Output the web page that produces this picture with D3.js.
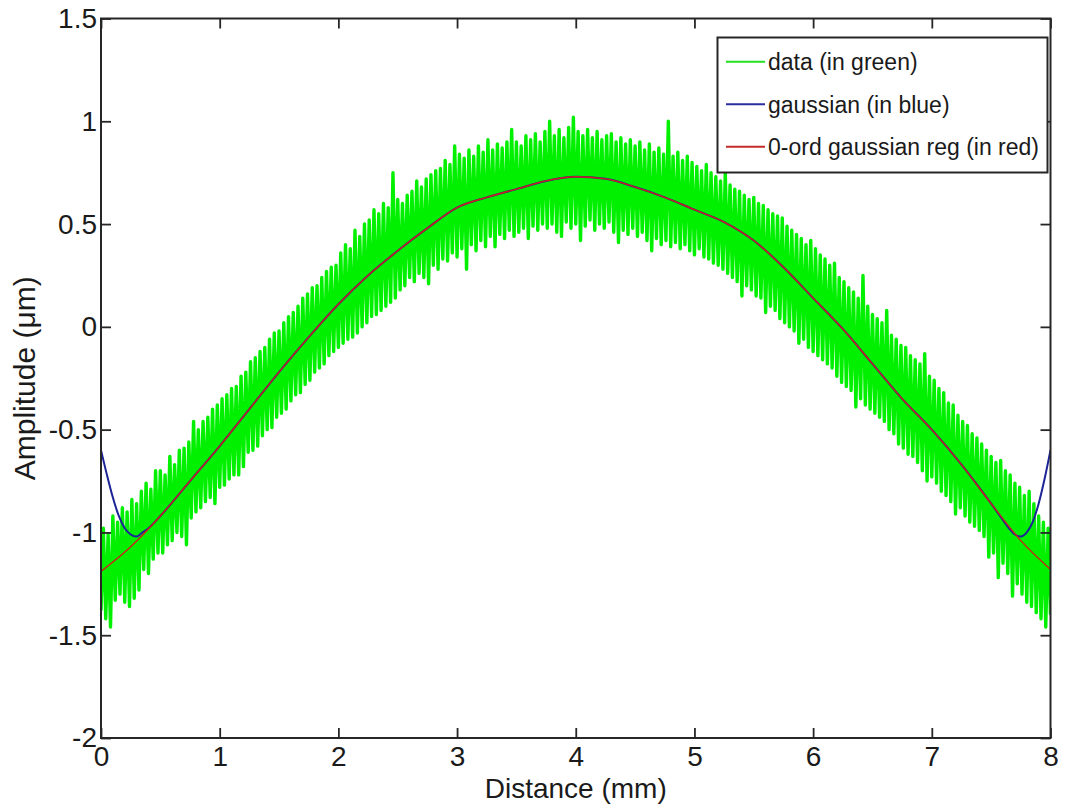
<!DOCTYPE html>
<html>
<head>
<meta charset="utf-8">
<script src="https://cdn.jsdelivr.net/npm/d3@7"></script>
<style>
  html, body { margin: 0; padding: 0; background: #fff; }
  svg { display: block; font-family: "Liberation Sans", Arial, sans-serif; }
</style>
</head>
<body>
<div id="chart"></div>
<script>
// measured profile: raw data, gaussian filter, 0-order gaussian regression
const distanceStep = 0.02; // mm between raw samples, starting at 0

const dataAmplitude = [
  -1.38, -0.98, -1.42, -1.01, -1.46, -0.92, -1.33, -0.95, -1.30, -0.88, -1.34, -0.90, -1.36, -0.84, -1.32, -0.86, -1.28, -0.80, -1.18, -0.76, -1.20, -0.79, -1.13, -0.70, -1.10,
  -0.70, -1.10, -0.72, -1.06, -0.63, -1.04, -0.67, -1.00, -0.60, -1.02, -0.59, -1.06, -0.56, -0.93, -0.46, -0.90, -0.50, -0.88, -0.46, -0.85, -0.44, -0.83, -0.40, -0.86, -0.38,
  -0.78, -0.35, -0.77, -0.33, -0.74, -0.30, -0.72, -0.29, -0.72, -0.24, -0.68, -0.22, -0.61, -0.17, -0.60, -0.15, -0.58, -0.12, -0.53, -0.10, -0.50, -0.06, -0.49, -0.03, -0.44,
  -0.02, -0.42, 0.02, -0.40, 0.05, -0.36, 0.07, -0.33, 0.10, -0.32, 0.14, -0.28, 0.16, -0.26, 0.19, -0.22, 0.20, -0.20, 0.24, -0.18, 0.27, -0.14, 0.29, -0.12, 0.30,
  -0.10, 0.36, -0.08, 0.40, -0.06, 0.38, -0.05, 0.47, -0.03, 0.44, 0.00, 0.50, 0.02, 0.52, 0.05, 0.57, 0.06, 0.55, 0.08, 0.60, 0.10, 0.58, 0.12, 0.75, 0.14,
  0.62, 0.18, 0.60, 0.20, 0.64, 0.24, 0.66, 0.22, 0.71, 0.26, 0.68, 0.24, 0.72, 0.21, 0.74, 0.30, 0.76, 0.28, 0.77, 0.33, 0.81, 0.32, 0.79, 0.36, 0.88,
  0.34, 0.84, 0.38, 0.82, 0.28, 0.86, 0.40, 0.83, 0.37, 0.88, 0.42, 0.85, 0.39, 0.91, 0.44, 0.86, 0.39, 0.89, 0.45, 0.87, 0.43, 0.90, 0.47, 0.96, 0.44,
  0.90, 0.46, 0.88, 0.48, 0.93, 0.43, 0.91, 0.49, 0.94, 0.47, 0.90, 0.50, 0.95, 0.48, 1.00, 0.50, 0.93, 0.46, 0.96, 0.44, 0.92, 0.51, 0.97, 0.48, 1.02,
  0.50, 0.95, 0.42, 0.93, 0.49, 0.96, 0.52, 0.92, 0.47, 0.95, 0.50, 0.91, 0.48, 0.93, 0.51, 0.94, 0.46, 0.90, 0.41, 0.92, 0.47, 0.89, 0.45, 0.91, 0.48,
  0.88, 0.44, 0.90, 0.46, 0.86, 0.42, 0.89, 0.37, 0.85, 0.43, 0.87, 0.40, 0.84, 0.42, 1.00, 0.39, 0.83, 0.41, 0.85, 0.38, 0.81, 0.40, 0.83, 0.37, 0.80,
  0.35, 0.78, 0.38, 0.76, 0.34, 0.79, 0.33, 0.75, 0.31, 0.73, 0.30, 0.71, 0.28, 0.75, 0.26, 0.69, 0.24, 0.67, 0.22, 0.66, 0.15, 0.64, 0.20, 0.62, 0.18,
  0.63, 0.15, 0.60, 0.14, 0.59, 0.07, 0.57, 0.10, 0.55, 0.08, 0.54, 0.04, 0.53, 0.02, 0.49, 0.00, 0.47, -0.02, 0.45, -0.08, 0.43, -0.06, 0.40, -0.10, 0.42,
  -0.12, 0.38, -0.14, 0.35, -0.16, 0.33, -0.18, 0.30, -0.20, 0.31, -0.24, 0.24, -0.27, 0.22, -0.29, 0.19, -0.31, 0.17, -0.39, 0.14, -0.35, 0.25, -0.38, 0.10, -0.40,
  0.06, -0.42, 0.04, -0.44, 0.02, -0.46, 0.08, -0.50, -0.04, -0.52, -0.06, -0.57, -0.09, -0.59, -0.10, -0.62, -0.14, -0.63, -0.16, -0.66, -0.18, -0.70, -0.13, -0.75, -0.24,
  -0.73, -0.26, -0.76, -0.30, -0.80, -0.32, -0.82, -0.37, -0.85, -0.38, -0.91, -0.43, -0.88, -0.46, -0.92, -0.48, -0.95, -0.52, -0.97, -0.54, -0.99, -0.57, -1.02, -0.60, -1.12,
  -0.63, -1.10, -0.66, -1.22, -0.65, -1.15, -0.70, -1.20, -0.72, -1.31, -0.76, -1.25, -0.78, -1.30, -0.82, -1.34, -0.80, -1.36, -0.86, -1.39, -0.92, -1.42, -0.95, -1.46, -0.98,
  -1.40
];

// 0-ord gaussian regression, sampled every 0.25 mm
const regDistance = [0, 0.25, 0.5, 0.75, 1, 1.25, 1.5, 1.75, 2, 2.25, 2.5, 2.75, 3, 3.25, 3.5, 3.75, 4,
  4.25, 4.5, 4.75, 5, 5.25, 5.5, 5.75, 6, 6.25, 6.5, 6.75, 7, 7.25, 7.5, 7.75, 8];
const regAmplitude = [-1.19, -1.07, -0.92, -0.75, -0.58, -0.40, -0.22, -0.05, 0.11, 0.25, 0.37, 0.48, 0.58, 0.63, 0.67, 0.71, 0.73,
  0.72, 0.68, 0.63, 0.57, 0.51, 0.42, 0.29, 0.14, -0.01, -0.18, -0.35, -0.50, -0.67, -0.86, -1.04, -1.18];

// gaussian filter: end effects where it leaves the regression curve
const gaussLeftDistance = [0, 0.05, 0.1, 0.15, 0.2, 0.25, 0.3, 0.35, 0.4];
const gaussLeftAmplitude = [-0.60, -0.72, -0.83, -0.92, -0.98, -1.01, -1.02, -1.00, -0.98];
const gaussRightDistance = [7.55, 7.6, 7.65, 7.7, 7.75, 7.8, 7.85, 7.9, 7.95, 8];
const gaussRightAmplitude = [-0.90, -0.94, -0.98, -1.01, -1.02, -1.00, -0.95, -0.86, -0.74, -0.60];

const xTicks = [0, 1, 2, 3, 4, 5, 6, 7, 8];
const yTicks = [-2, -1.5, -1, -0.5, 0, 0.5, 1, 1.5];

const legendItems = [
  { label: "data (in green)", color: "#22e022" },
  { label: "gaussian (in blue)", color: "#2a2ea0" },
  { label: "0-ord gaussian reg (in red)", color: "#c42a2a" },
];

const width = 1065;
const height = 809;
const plot = { left: 101, top: 18.5, right: 1050.5, bottom: 738 };

const svg = d3.select("#chart").append("svg")
  .attr("width", width)
  .attr("height", height);

svg.append("rect").attr("width", width).attr("height", height).attr("fill", "#fff");

const x = d3.scaleLinear().domain([0, 8]).range([plot.left, plot.right]);
const y = d3.scaleLinear().domain([-2, 1.5]).range([plot.bottom, plot.top]);

svg.append("clipPath").attr("id", "clip")
  .append("rect")
  .attr("x", plot.left).attr("y", plot.top)
  .attr("width", plot.right - plot.left).attr("height", plot.bottom - plot.top);

// build tables
const dataPoints = dataAmplitude.map((v, i) => ({ d: i * distanceStep, a: v }));
const regPoints = regDistance.map((d, i) => ({ d, a: regAmplitude[i] }));
const gaussPoints = [
  ...gaussLeftDistance.map((d, i) => ({ d, a: gaussLeftAmplitude[i] })),
  ...regPoints.filter((p) => p.d > 0.45 && p.d < 7.52),
  ...gaussRightDistance.map((d, i) => ({ d, a: gaussRightAmplitude[i] })),
];

const g = svg.append("g").attr("clip-path", "url(#clip)");

const rawLine = d3.line().x((p) => x(p.d)).y((p) => y(p.a));
const smoothLine = d3.line().x((p) => x(p.d)).y((p) => y(p.a)).curve(d3.curveMonotoneX);

g.append("path")
  .datum(dataPoints)
  .attr("d", rawLine)
  .attr("fill", "none")
  .attr("stroke", "#00f000")
  .attr("stroke-width", 3.4)
  .attr("stroke-linejoin", "round");

g.append("path")
  .datum(gaussPoints)
  .attr("d", smoothLine)
  .attr("fill", "none")
  .attr("stroke", "#1c2496")
  .attr("stroke-width", 2);

g.append("path")
  .datum(regPoints)
  .attr("d", smoothLine)
  .attr("fill", "none")
  .attr("stroke", "#cc2418")
  .attr("stroke-width", 1.4);

// axes, MATLAB style: box with inward ticks on all sides
const axisColor = "#262626";

svg.append("g")
  .attr("transform", `translate(0,${plot.bottom})`)
  .call(d3.axisBottom(x).tickValues(xTicks).tickSizeInner(-10).tickSizeOuter(0).tickPadding(8).tickFormat((d) => String(d)));

svg.append("g")
  .attr("transform", `translate(${plot.left},0)`)
  .call(d3.axisLeft(y).tickValues(yTicks).tickSizeInner(-10).tickSizeOuter(0).tickPadding(4).tickFormat((d) => String(d)));

svg.append("g")
  .attr("transform", `translate(0,${plot.top})`)
  .call(d3.axisTop(x).tickValues(xTicks).tickSizeInner(-10).tickSizeOuter(0).tickFormat(""));

svg.append("g")
  .attr("transform", `translate(${plot.right},0)`)
  .call(d3.axisRight(y).tickValues(yTicks).tickSizeInner(-10).tickSizeOuter(0).tickFormat(""));

svg.selectAll(".domain").remove();
svg.selectAll(".tick line").attr("stroke", axisColor).attr("stroke-width", 1.8);
svg.selectAll(".tick text")
  .attr("fill", "#1a1a1a")
  .style("font-size", "28px")
  .style("font-family", "'Liberation Sans', Arial, sans-serif");

svg.append("rect")
  .attr("x", plot.left).attr("y", plot.top)
  .attr("width", plot.right - plot.left).attr("height", plot.bottom - plot.top)
  .attr("fill", "none")
  .attr("stroke", axisColor)
  .attr("stroke-width", 2);

// axis labels
svg.append("text")
  .attr("x", (plot.left + plot.right) / 2)
  .attr("y", 798)
  .attr("text-anchor", "middle")
  .attr("fill", "#1a1a1a")
  .style("font-size", "28px")
  .text("Distance (mm)");

svg.append("text")
  .attr("transform", `translate(35,${(plot.top + plot.bottom) / 2}) rotate(-90)`)
  .attr("text-anchor", "middle")
  .attr("fill", "#1a1a1a")
  .style("font-size", "30px")
  .text("Amplitude (\u03bcm)");

// legend
const legend = svg.append("g");
legend.append("rect")
  .attr("x", 717.5).attr("y", 37.5)
  .attr("width", 330).attr("height", 135)
  .attr("fill", "#fff")
  .attr("stroke", axisColor)
  .attr("stroke-width", 2);

const rows = legend.selectAll("g.row")
  .data(legendItems)
  .enter()
  .append("g")
  .attr("class", "row")
  .attr("transform", (d, i) => `translate(0,${61.7 + i * 42.5})`);

rows.append("line")
  .attr("x1", 726).attr("x2", 765)
  .attr("y1", 0).attr("y2", 0)
  .attr("stroke", (d) => d.color)
  .attr("stroke-width", 2);

rows.append("text")
  .attr("x", 768)
  .attr("y", 8.5)
  .attr("fill", "#1a1a1a")
  .style("font-size", "23px")
  .text((d) => d.label);
</script>
</body>
</html>
